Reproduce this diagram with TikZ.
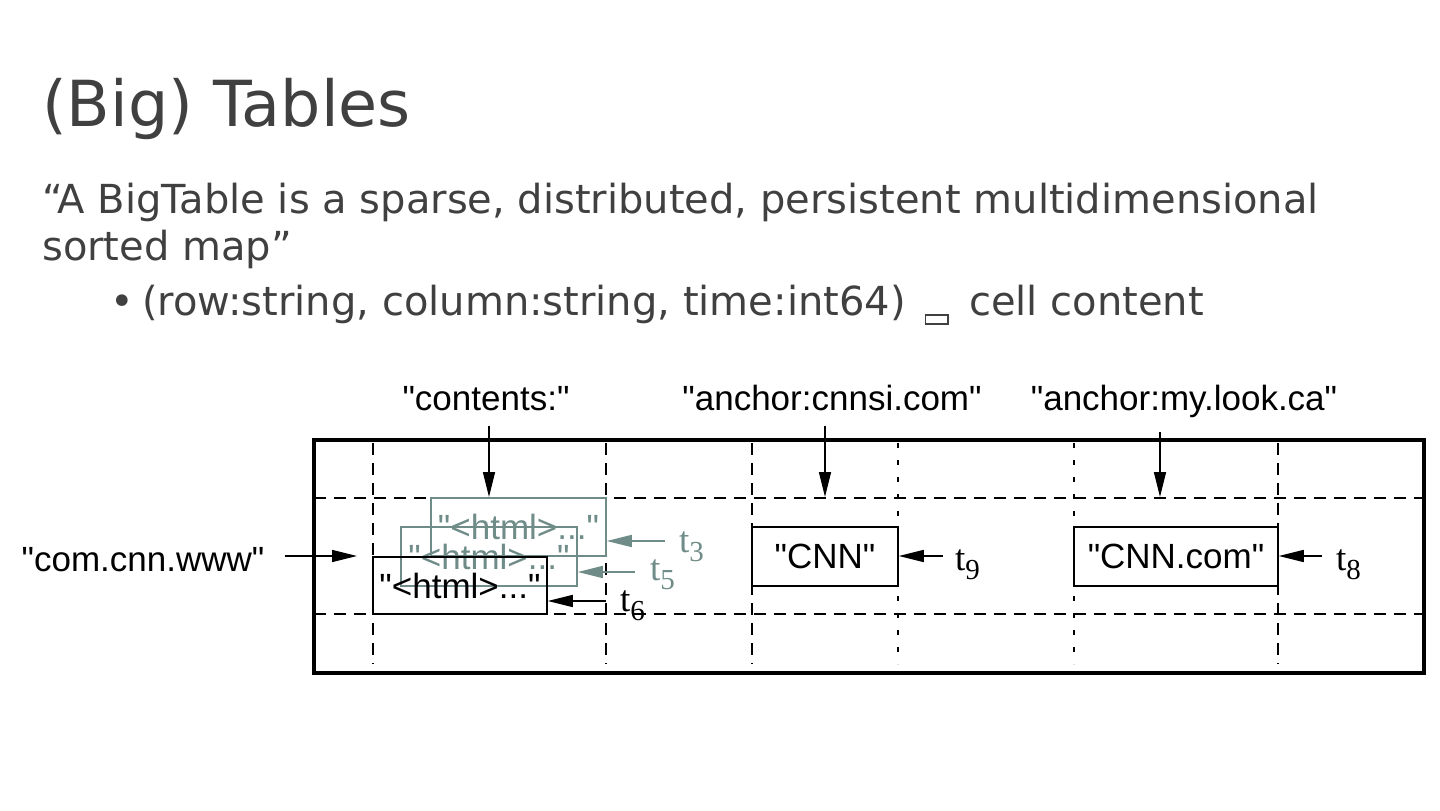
\documentclass[tikz,border=0pt]{standalone}
\usepackage{fontspec}
\setmainfont{DejaVu Sans}
\newfontfamily\diagfont{Liberation Sans}
\newfontfamily\stampfont{Liberation Serif}
\usetikzlibrary{arrows.meta}

\definecolor{slidegray}{HTML}{404040}
\definecolor{oldgray}{HTML}{6F8C88}

% missing-glyph box as printed in the slide
\newcommand\tofubox{\hspace{19pt}\raisebox{-8pt}{\setlength\fboxsep{0pt}\setlength\fboxrule{1.8pt}\fbox{\rule{0pt}{7pt}\hspace{21pt}}}\hspace{20pt}}
\newcommand\tstamp[1]{t\raisebox{-9pt}{\fontsize{29}{29}\selectfont #1}}

\tikzset{
  slide/.style = {text=slidegray, inner sep=0, anchor=base west, font=\fontsize{40}{47}\selectfont},
  colhead/.style = {inner sep=0, anchor=base, font=\diagfont\fontsize{35}{35}\selectfont},
  cell/.style = {draw, line width=1.5pt, inner sep=0, font=\diagfont\fontsize{35}{35}\selectfont},
  oldcell/.style = {cell, draw=oldgray, text=oldgray},
  stamp/.style = {inner sep=0, anchor=base west, font=\stampfont\fontsize{37}{37}\selectfont},
  ptr/.style = {-{Triangle[length=25pt,width=12pt]}, line width=1.5pt},
  dashline/.style = {line width=2pt, dash pattern=on 12pt off 8pt},
  dotline/.style = {line width=2.5pt, dash pattern=on 5pt off 12pt}
}

\begin{document}
\begin{tikzpicture}[x=1pt, y=-1pt]
	\useasboundingbox (0,0) rectangle (1440,811);

	% slide text
	\node[slide, font=\fontsize{63.5}{63.5}\selectfont] (title) at (42,126) {(Big) Tables};
	\node[slide] (quote1) at (42,213) {“A BigTable is a sparse, distributed, persistent multidimensional};
	\node[slide] (quote2) at (42,260) {sorted map”};
	\node[slide] (bullet) at (110,315) {•};
	\node[slide] (tuple) at (142,315) {(row:string, column:string, time:int64)\tofubox cell content};

	% table frame and grid
	\draw[line width=4pt] (314,440) rectangle (1424,673);
	\foreach \y in {498,614}
		\draw[dashline] (314,\y) -- (1424,\y);
	\foreach \x in {373,606,752,1278}
		\draw[dashline] (\x,443) -- (\x,664);
	\foreach \x in {898,1074}
		\draw[dotline] (\x,443) -- (\x,664);

	% column and row keys
	\node[colhead] (contents) at (486,410) {"contents:"};
	\node[colhead] (cnnsi) at (832,410) {"anchor:cnnsi.com"};
	\node[colhead] (mylook) at (1184,410) {"anchor:my.look.ca"};
	\node[colhead] (rowkey) at (143,571) {"com.cnn.www"};

	\coordinate (hc1) at (489,497);
	\coordinate (hc2) at (825,497);
	\coordinate (hc3) at (1160,497);
	\coordinate (rowin) at (357,556);
	\draw[ptr, shorten <=15pt] (contents.south -| hc1) -- (hc1);
	\draw[ptr, shorten <=15pt] (cnnsi.south -| hc2) -- (hc2);
	\draw[ptr, shorten <=15pt] (mylook.south -| hc3) -- (hc3);
	\draw[ptr] (rowkey.east |- rowin) ++(20,0) -- (rowin);

	% cells
	\node[oldcell, minimum width=175pt, minimum height=58pt] (c3) at (518.5,527) {"<html>..."};
	\node[oldcell, minimum width=176pt, minimum height=59pt] (c5) at (489,556.5) {"<html>..."};
	\node[cell, minimum width=174pt, minimum height=57pt] (c6) at (460,585.5) {"<html>..."};
	\node[cell, minimum width=146pt, minimum height=59pt] (c9) at (825,556.5) {"CNN"};
	\node[cell, minimum width=204pt, minimum height=59pt] (c8) at (1176,556.5) {"CNN.com"};

	% timestamps
	\node[stamp, text=oldgray] (t3) at (679,552) {\tstamp{3}};
	\node[stamp, text=oldgray] (t5) at (650,580) {\tstamp{5}};
	\node[stamp] (t6) at (620,611) {\tstamp{6}};
	\node[stamp] (t9) at (955,570) {\tstamp{9}};
	\node[stamp] (t8) at (1336,570) {\tstamp{8}};

	\coordinate (a3) at (665,541);
	\coordinate (a5) at (635,572);
	\coordinate (a6) at (606,601);
	\coordinate (a9) at (943,556);
	\coordinate (a8) at (1322,556);
	\draw[ptr, oldgray] (a3) -- (a3 -| c3.east);
	\draw[ptr, oldgray] (a5) -- (a5 -| c5.east);
	\draw[ptr] (a6) -- (a6 -| c6.east);
	\draw[ptr] (a9) -- (a9 -| c9.east);
	\draw[ptr] (a8) -- (a8 -| c8.east);
\end{tikzpicture}
\end{document}
